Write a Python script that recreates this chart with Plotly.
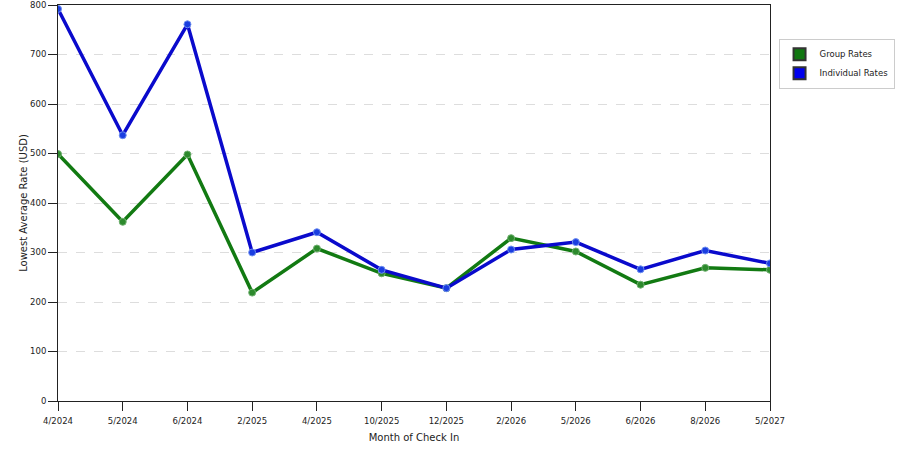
import plotly.graph_objects as go

months = ['4/2024', '5/2024', '6/2024', '2/2025', '4/2025', '10/2025',
          '12/2025', '2/2026', '5/2026', '6/2026', '8/2026', '5/2027']
group_rates = [499, 362, 498, 219, 308, 258, 228, 329, 302, 235, 269, 265]
individual_rates = [792, 537, 761, 300, 341, 265, 228, 306, 321, 266, 304, 278]

fig = go.Figure()

# actual lines (no legend entries)
fig.add_trace(go.Scatter(x=months, y=group_rates, mode='lines+markers',
                         line=dict(color='#127a12', width=3.5),
                         marker=dict(size=7, color='#2d8a2d', line=dict(color='#6fb06f', width=1)),
                         showlegend=False, name='Group Rates'))
fig.add_trace(go.Scatter(x=months, y=individual_rates, mode='lines+markers',
                         line=dict(color='#0a0acc', width=3.5),
                         marker=dict(size=7, color='#1a3ee0', line=dict(color='#6f8ff0', width=1)),
                         showlegend=False, name='Individual Rates'))

# square legend swatches
fig.add_trace(go.Scatter(x=[None], y=[None], mode='markers', name='Group Rates',
                         marker=dict(symbol='square', size=13, color='#117711',
                                     line=dict(color='#333333', width=1))))
fig.add_trace(go.Scatter(x=[None], y=[None], mode='markers', name='Individual Rates',
                         marker=dict(symbol='square', size=13, color='#0000ee',
                                     line=dict(color='#333333', width=1))))

fig.update_layout(
    width=900, height=450,
    margin=dict(l=58, r=130, t=5, b=49, autoexpand=False),
    paper_bgcolor='white', plot_bgcolor='white',
    font=dict(family='DejaVu Sans', size=8.5, color='#222222'),
    legend=dict(x=1.012, y=0.915, xanchor='left', yanchor='top',
                bordercolor='#cccccc', borderwidth=1, bgcolor='white',
                font=dict(size=8.5), itemsizing='constant', itemwidth=30),
    xaxis=dict(title=dict(text='Month of Check In', standoff=8),
               type='category', range=[0, len(months) - 1], automargin=False,
               showline=True, linecolor='#222222', linewidth=1, mirror=True,
               ticks='outside', ticklen=9, tickcolor='#222222', ticklabelstandoff=3,
               showgrid=False, zeroline=False),
    yaxis=dict(title=dict(text='Lowest Average Rate (USD)', standoff=0),
               range=[0, 800], dtick=100, automargin=False, ticklabeloverflow='allow',
               showline=True, linecolor='#222222', linewidth=1, mirror=True,
               ticks='outside', ticklen=9, tickcolor='#222222',
               showgrid=True, gridcolor='#dddddd', griddash='dash', zeroline=False),
)

# drop the browser's default 8px body margin so the figure sits at (0, 0)
fig.write_html("out.html", config={'displayModeBar': False},
               post_script="document.body.style.margin='0px';")
